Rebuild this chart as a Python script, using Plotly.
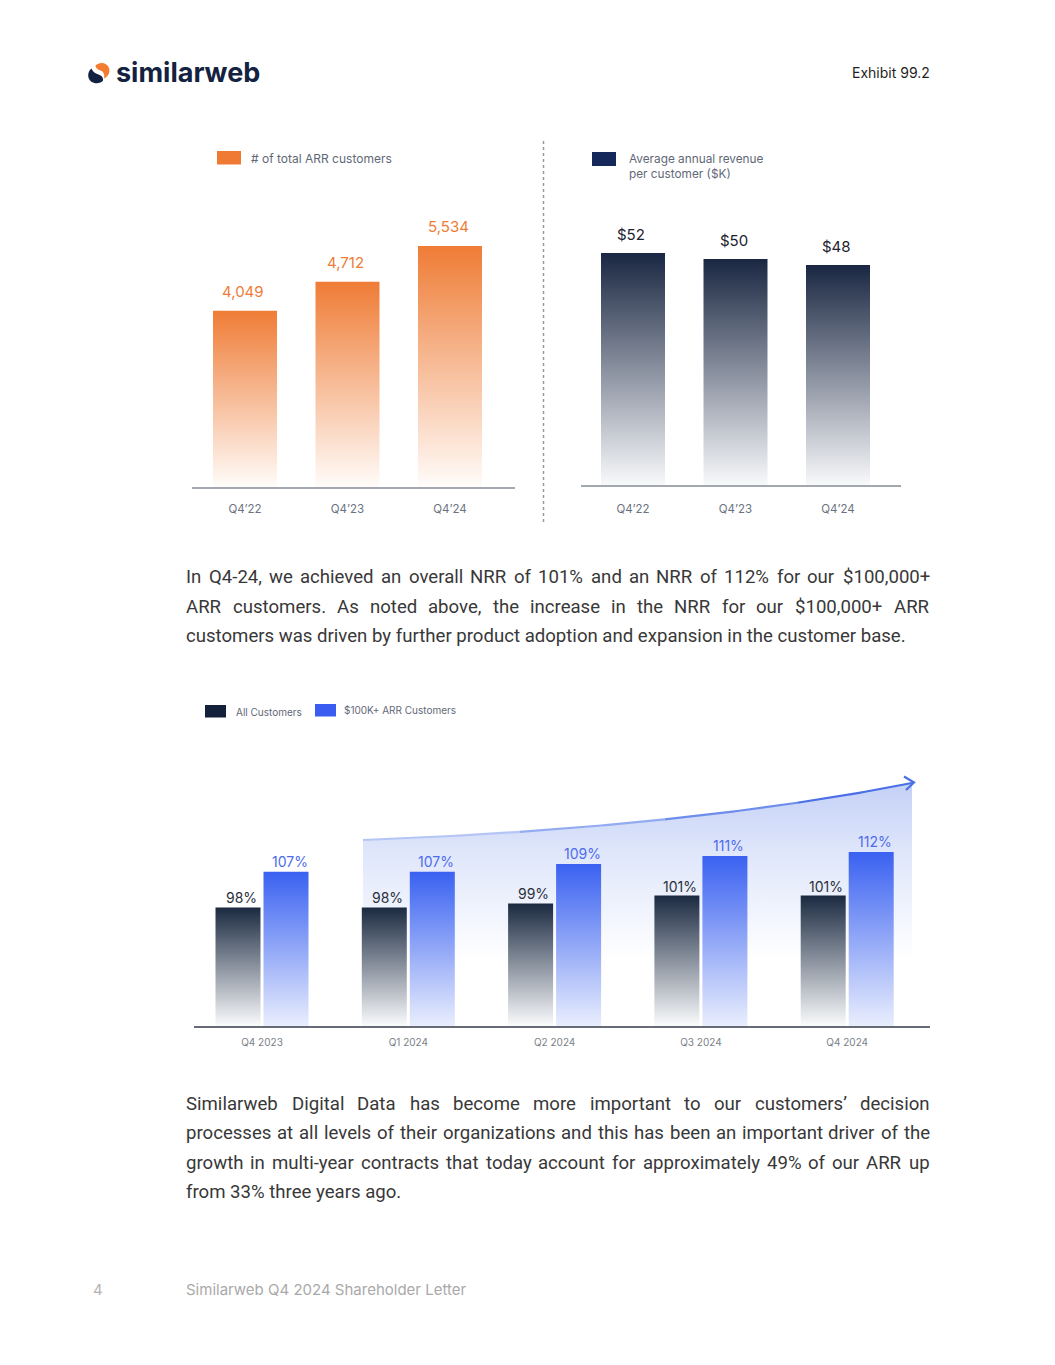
import numpy as np
import plotly.graph_objects as go

# The page body has an 8px margin, so the figure is laid out in page pixels offset by 8.
PAGE_W, PAGE_H = 1055, 1365
OFF = 8
W, H = PAGE_W - OFF, PAGE_H - OFF

# ---------------- data ----------------
arr_quarters = ["Q4’22", "Q4’23", "Q4’24"]
arr_customers = [4049, 4712, 5534]

rev_quarters = ["Q4’22", "Q4’23", "Q4’24"]
avg_revenue_k = [52, 50, 48]

nrr_quarters = ["Q4 2023", "Q1 2024", "Q2 2024", "Q3 2024", "Q4 2024"]
nrr_all = [98, 98, 99, 101, 101]
nrr_100k = [107, 107, 109, 111, 112]

paragraph1 = [
    "In Q4-24, we achieved an overall NRR of 101% and an NRR of 112% for our $100,000+",
    "ARR customers. As noted above, the increase in the NRR for our $100,000+ ARR",
    "customers was driven by further product adoption and expansion in the customer base.",
]
paragraph2 = [
    "Similarweb Digital Data has become more important to our customers’ decision",
    "processes at all levels of their organizations and this has been an important driver of the",
    "growth in multi-year contracts that today account for approximately 49% of our ARR up",
    "from 33% three years ago.",
]

# ---------------- helpers ----------------
def dx(p):
    return (p - OFF) / W


def dy(p):
    return 1 - (p - OFF) / H


def xr(left, right, c0, step):
    return [(left - c0) / step, (right - c0) / step]


fig = go.Figure()


def add_bar(xc, width, floor, top, colorscale, xa, ya):
    x0, x1 = xc - width / 2, xc + width / 2
    fig.add_trace(go.Scatter(
        x=[x0, x0, x1, x1, x0], y=[floor, top, top, floor, floor],
        mode="lines", line=dict(width=0, color="rgba(0,0,0,0)"),
        fill="toself",
        fillgradient=dict(type="vertical", colorscale=colorscale, start=floor, stop=top),
        xaxis=xa, yaxis=ya, hoverinfo="skip", showlegend=False))


annotations = []
shapes = []

CHART_FONT = "Inter"

# ---------------- page decorations (page axis x/y in page pixels) ----------------
P0, P1, P2 = np.array([363, 840]), np.array([685, 828]), np.array([912, 783])
t = np.linspace(0, 1, 80)
curve = (1 - t)[:, None] ** 2 * P0 + 2 * ((1 - t) * t)[:, None] * P1 + (t ** 2)[:, None] * P2
cx, cy = curve[:, 0].tolist(), curve[:, 1].tolist()
fig.add_trace(go.Scatter(
    x=cx + [912, 363, 363], y=cy + [1024, 1024, 840], mode="lines",
    line=dict(width=0, color="rgba(0,0,0,0)"), fill="toself",
    fillgradient=dict(type="vertical", start=783, stop=1020,
                      colorscale=[[0, "#c4d0f6"], [0.3, "#e0e7fb"], [0.75, "#ffffff"], [1, "#ffffff"]]),
    xaxis="x", yaxis="y", hoverinfo="skip", showlegend=False))
seg_cols = ["#b5c5f5", "#93abf1", "#6f8eec", "#4a6fe6"]
n = len(cx)
for k, col in enumerate(seg_cols):
    a, b = k * n // 4, min(n, (k + 1) * n // 4 + 1)
    fig.add_trace(go.Scatter(x=cx[a:b], y=cy[a:b], mode="lines",
                             line=dict(width=2.2, color=col), xaxis="x", yaxis="y",
                             hoverinfo="skip", showlegend=False))
fig.add_trace(go.Scatter(x=[904, 914, 906], y=[776.5, 782.5, 790], mode="lines",
                         line=dict(width=2.2, color="#4a6fe6"), xaxis="x", yaxis="y",
                         hoverinfo="skip", showlegend=False))

# ---------------- top-left chart ----------------
s_left = 0.043557
c_left = 102.5
for i, v in enumerate(arr_customers):
    add_bar(i, 64 / c_left, 0, v, [[0, "#fffcfa"], [1, "#ef7c36"]], "x2", "y2")
    annotations.append(dict(x=i, y=v, xref="x2", yref="y2", text=f"{v:,}", showarrow=False,
                            yanchor="bottom", yshift=8, xshift=-2,
                            font=dict(family=CHART_FONT, size=15, color="#ee7c36")))

# ---------------- top-right chart ----------------
s_right = 3.013
floor_right = -25
for i, v in enumerate(avg_revenue_k):
    add_bar(i, 64 / c_left, floor_right, v, [[0, "#f8f9fb"], [1, "#1a2742"]], "x3", "y3")
    annotations.append(dict(x=i, y=v, xref="x3", yref="y3", text=f"${v}", showarrow=False,
                            yanchor="bottom", yshift=7, xshift=-2,
                            font=dict(family=CHART_FONT, size=15, color="#1d2230")))

# ---------------- bottom chart ----------------
s_bot = 3.953
floor_bot = 68
c_bot = 146.3
bw = 45 / c_bot
off = 24 / c_bot
for i, (va, vb) in enumerate(zip(nrr_all, nrr_100k)):
    add_bar(i - off, bw, floor_bot, va, [[0, "#fafbfc"], [1, "#1b2a41"]], "x4", "y4")
    add_bar(i + off, bw, floor_bot, vb, [[0, "#e9eefd"], [1, "#3a61f1"]], "x4", "y4")
    annotations.append(dict(x=i - off, y=va, xref="x4", yref="y4", text=f"{va}%", showarrow=False,
                            yanchor="bottom", yshift=-1, xshift=3,
                            font=dict(family=CHART_FONT, size=14, color="#2a2f3b")))
    annotations.append(dict(x=i + off, y=vb, xref="x4", yref="y4", text=f"{vb}%", showarrow=False,
                            yanchor="bottom", yshift=0, xshift=4,
                            font=dict(family=CHART_FONT, size=14, color="#4d6cec")))

# ---------------- legends ----------------
def legend_item(x0, y0, x1, y1, color, label, tx, ty, size=11.5):
    shapes.append(dict(type="rect", xref="x", yref="y", x0=x0, x1=x1, y0=y0, y1=y1,
                       fillcolor=color, line=dict(width=0)))
    annotations.append(dict(x=tx, y=ty, xref="x", yref="y", text=label, showarrow=False,
                            xanchor="left", yanchor="middle", align="left",
                            font=dict(family=CHART_FONT, size=size, color="#5f6878")))

legend_item(217, 151, 241, 164.5, "#f07a33", "# of total ARR customers", 249, 158, 12)
legend_item(592, 152, 616, 166, "#14295a", "Average annual revenue<br>per customer ($K)", 627, 166, 11.8)
legend_item(205, 705, 226, 717.5, "#13213b", "All Customers", 234, 711.5, 10)
legend_item(315, 704, 336, 716.5, "#3a5cf0", "$100K+ ARR Customers", 342, 710, 10)

# dotted separator
shapes.append(dict(type="line", xref="x", yref="y", x0=543.5, x1=543.5, y0=141, y1=523,
                   line=dict(color="#9a9a9a", width=1.5, dash="dot")))

# logo
shapes.append(dict(type="path", xref="x", yref="y", fillcolor="#f47c30", line=dict(width=0),
                   path="M95.5,65.5 C99,61.5 107,62 109,68 C110.5,72.5 108,76.5 104,78.5 "
                        "C105,74.5 103.5,71.5 100.5,70.5 C97.5,69.5 95.5,68 95.5,65.5 Z"))
shapes.append(dict(type="path", xref="x", yref="y", fillcolor="#132240", line=dict(width=0),
                   path="M98.5,74.5 C95,73.5 92.5,71.5 91.5,68.5 C87.5,71.5 87,78 91,81.5 "
                        "C95,84.5 101,83.5 103,80.5 C103.5,77.5 101.5,75.5 98.5,74.5 Z"))
annotations.append(dict(x=114, y=72, xref="x", yref="y", text="similarweb", showarrow=False,
                        xanchor="left", yanchor="middle",
                        font=dict(family="Inter", size=27, color="#132240", weight=700)))
annotations.append(dict(x=932, y=72, xref="x", yref="y", text="Exhibit 99.2", showarrow=False,
                        xanchor="right", yanchor="middle",
                        font=dict(family="Inter", size=14, color="#1f1f1f")))

# footer
annotations.append(dict(x=98, y=1289, xref="x", yref="y", text="4", showarrow=False,
                        xanchor="center", yanchor="middle",
                        font=dict(family="Inter", size=15, color="#b3b3b3")))
annotations.append(dict(x=184, y=1289, xref="x", yref="y", text="Similarweb Q4 2024 Shareholder Letter",
                        showarrow=False, xanchor="left", yanchor="middle",
                        font=dict(family="Inter", size=15, color="#a9a9a9")))

# ---------------- justified paragraphs ----------------
RW = {' ': 507, '!': 527, '#': 1233, '$': 1124, '%': 1465, "'": 349, '’': 400, '(': 684, ')': 695,
      '+': 1134, ',': 393, '-': 552, '.': 527, '/': 824, ':': 496, ';': 433,
      'A': 1336, 'B': 1275, 'C': 1333, 'D': 1343, 'E': 1164, 'F': 1132, 'G': 1395, 'H': 1460, 'I': 557,
      'J': 1130, 'K': 1284, 'L': 1102, 'M': 1788, 'N': 1460, 'O': 1408, 'P': 1292, 'Q': 1408, 'R': 1261,
      'S': 1215, 'T': 1222, 'U': 1328, 'V': 1303, 'W': 1817, 'X': 1284, 'Y': 1230, 'Z': 1226,
      'a': 1088, 'b': 1122, 'c': 1046, 'd': 1128, 'e': 1058, 'f': 696, 'g': 1120, 'h': 1102, 'i': 486,
      'j': 478, 'k': 1014, 'l': 486, 'm': 1753, 'n': 1104, 'o': 1140, 'p': 1120, 'q': 1130, 'r': 677,
      's': 1032, 't': 654, 'u': 1103, 'v': 968, 'w': 1503, 'x': 992, 'y': 946, 'z': 992}
TXT_SIZE = 18.6
TXT_COL = "#383838"
CAL = 1.022
LEFT, RIGHT = 186, 930
PAD = 2


def tw(s):
    return sum(RW.get(ch, 1150) for ch in s) * TXT_SIZE / 2048 * CAL


def paragraph(lines, y0, step):
    for li, line in enumerate(lines):
        y = y0 + li * step
        if li == len(lines) - 1:
            annotations.append(dict(x=LEFT - PAD, y=y, xref="x", yref="y", text=line, showarrow=False,
                                    xanchor="left", yanchor="middle",
                                    font=dict(family="Roboto", size=TXT_SIZE, color=TXT_COL)))
            continue
        words = line.split(" ")
        ws = [tw(w) for w in words]
        gap = (RIGHT - LEFT - sum(ws)) / (len(words) - 1)
        pos = LEFT
        for j, (w, wd) in enumerate(zip(words, ws)):
            if j == 0:
                x, anc = LEFT - PAD, "left"
            elif j == len(words) - 1:
                x, anc = RIGHT + PAD, "right"
            else:
                x, anc = pos + wd / 2, "center"
            pos += wd + gap
            annotations.append(dict(x=x, y=y, xref="x", yref="y", text=w, showarrow=False,
                                    xanchor=anc, yanchor="middle",
                                    font=dict(family="Roboto", size=TXT_SIZE, color=TXT_COL)))


paragraph(paragraph1, 577, 29.5)
paragraph(paragraph2, 1104, 29.4)

# ---------------- layout ----------------
axis_hidden = dict(visible=False, showgrid=False, zeroline=False, fixedrange=True)

fig.update_layout(
    width=W, height=H, margin=dict(l=0, r=0, t=0, b=0),
    paper_bgcolor="white", plot_bgcolor="rgba(0,0,0,0)",
    showlegend=False,
    xaxis=dict(domain=[0, 1], range=[OFF, PAGE_W], **axis_hidden),
    yaxis=dict(domain=[0, 1], range=[PAGE_H, OFF], **axis_hidden),
    xaxis2=dict(domain=[dx(192), dx(515)], range=xr(192, 515, 245, c_left), anchor="y2",
                tickvals=list(range(len(arr_quarters))), ticktext=arr_quarters,
                showline=True, linecolor="#a3a7af", linewidth=2, showgrid=False, zeroline=False,
                ticks="", ticklabelstandoff=10,
                tickfont=dict(family=CHART_FONT, size=11.5, color="#6b7280"), fixedrange=True),
    yaxis2=dict(domain=[dy(487), dy(140)], range=[0, (487 - 140) / s_left], anchor="x2", **axis_hidden),
    xaxis3=dict(domain=[dx(581), dx(901)], range=xr(581, 901, 633, c_left), anchor="y3",
                tickvals=list(range(len(rev_quarters))), ticktext=rev_quarters,
                showline=True, linecolor="#a3a7af", linewidth=2, showgrid=False, zeroline=False,
                ticks="", ticklabelstandoff=12,
                tickfont=dict(family=CHART_FONT, size=11.5, color="#6b7280"), fixedrange=True),
    yaxis3=dict(domain=[dy(485), dy(140)], range=[floor_right, floor_right + (485 - 140) / s_right],
                anchor="x3", **axis_hidden),
    xaxis4=dict(domain=[dx(194), dx(930)], range=xr(194, 930, 262, c_bot), anchor="y4",
                tickvals=list(range(len(nrr_quarters))), ticktext=nrr_quarters,
                showline=True, linecolor="#666b75", linewidth=1.5, showgrid=False, zeroline=False,
                ticks="", ticklabelstandoff=6,
                tickfont=dict(family=CHART_FONT, size=10, color="#7a7f89"), fixedrange=True),
    yaxis4=dict(domain=[dy(1026), dy(690)], range=[floor_bot, floor_bot + (1026 - 690) / s_bot],
                anchor="x4", **axis_hidden),
    annotations=annotations,
    shapes=shapes,
)

fig.write_html("out.html")
